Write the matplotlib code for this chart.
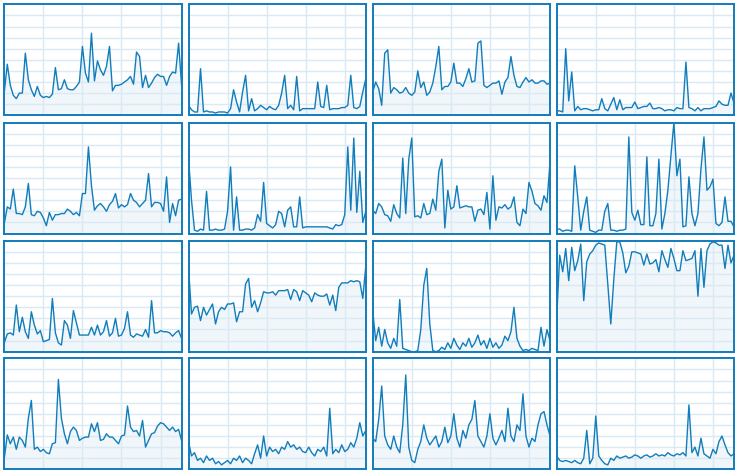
import matplotlib
matplotlib.use("Agg")
import matplotlib.pyplot as plt

# per-core usage in percent, 60 samples each
core0 = [21, 46, 27, 18, 15, 20, 20, 56, 32, 23, 17, 26, 18, 16, 17, 16, 19, 43, 23, 24,
         32, 24, 23, 23, 26, 30, 62, 38, 30, 74, 31, 49, 41, 36, 44, 62, 22, 27, 27, 28,
         30, 32, 35, 28, 57, 53, 25, 36, 25, 29, 34, 37, 35, 35, 27, 35, 39, 38, 65, 27]
core1 = [9, 5, 3, 3, 42, 3, 4, 3, 3, 2, 3, 3, 3, 2, 6, 23, 12, 3, 21, 36,
         4, 15, 4, 6, 9, 7, 5, 8, 6, 5, 9, 20, 36, 6, 9, 5, 35, 4, 6, 6,
         6, 6, 6, 30, 8, 7, 27, 5, 6, 6, 6, 7, 7, 9, 36, 7, 6, 8, 21, 33]
core2 = [21, 30, 24, 9, 56, 59, 20, 25, 23, 20, 21, 25, 20, 18, 21, 40, 25, 30, 18, 21,
         29, 44, 62, 23, 26, 26, 30, 47, 29, 29, 26, 33, 42, 30, 31, 65, 67, 27, 25, 27,
         29, 29, 31, 19, 30, 34, 53, 36, 26, 25, 30, 34, 30, 32, 29, 29, 31, 31, 28, 29]
core3 = [4, 4, 3, 60, 13, 39, 4, 8, 5, 6, 6, 5, 4, 5, 5, 15, 6, 4, 10, 16,
         5, 14, 5, 7, 7, 7, 12, 6, 7, 8, 8, 11, 6, 6, 7, 6, 4, 5, 5, 4,
         7, 6, 6, 48, 7, 6, 4, 7, 4, 6, 6, 6, 7, 8, 13, 10, 9, 9, 20, 11]
core4 = [9, 24, 22, 40, 18, 18, 17, 24, 45, 17, 16, 20, 19, 14, 7, 19, 12, 17, 17, 18,
         18, 22, 20, 17, 19, 16, 36, 36, 78, 43, 21, 25, 27, 24, 20, 26, 29, 36, 23, 26,
         24, 26, 36, 30, 28, 24, 27, 30, 54, 24, 28, 28, 27, 20, 51, 10, 27, 16, 30, 31]
core5 = [68, 30, 3, 2, 4, 3, 38, 3, 3, 4, 3, 3, 4, 20, 60, 3, 33, 3, 3, 4,
         4, 3, 5, 17, 11, 46, 9, 7, 5, 8, 20, 18, 6, 21, 24, 6, 6, 33, 5, 6,
         6, 6, 6, 6, 6, 6, 6, 5, 4, 8, 7, 8, 17, 78, 21, 86, 19, 56, 10, 20]
core6 = [21, 18, 27, 24, 17, 16, 11, 26, 18, 14, 68, 18, 67, 86, 15, 16, 14, 27, 17, 18,
         31, 21, 56, 67, 5, 39, 22, 24, 43, 23, 24, 25, 24, 24, 11, 21, 22, 17, 37, 4,
         52, 12, 24, 23, 26, 22, 24, 33, 10, 7, 22, 18, 46, 38, 27, 25, 21, 34, 28, 64]
core7 = [4, 4, 2, 3, 3, 2, 61, 33, 3, 20, 33, 3, 2, 1, 3, 3, 20, 27, 3, 3,
         2, 3, 3, 4, 87, 19, 12, 21, 8, 8, 69, 7, 7, 18, 67, 4, 18, 39, 70, 100,
         52, 67, 6, 7, 51, 18, 7, 18, 58, 87, 39, 42, 49, 9, 7, 10, 33, 11, 11, 6]
core8 = [8, 16, 17, 15, 42, 18, 31, 18, 12, 36, 24, 16, 19, 9, 10, 11, 48, 17, 8, 6,
         28, 24, 12, 37, 26, 15, 15, 15, 15, 22, 15, 24, 15, 18, 28, 14, 17, 30, 14, 15,
         21, 36, 15, 13, 16, 15, 14, 20, 13, 46, 17, 17, 19, 18, 18, 17, 14, 17, 19, 12]
core9 = [76, 34, 40, 41, 28, 40, 33, 38, 43, 25, 36, 40, 38, 43, 43, 44, 27, 36, 36, 61,
         66, 40, 46, 36, 44, 54, 53, 53, 54, 51, 55, 55, 55, 56, 47, 56, 54, 46, 55, 53,
         51, 45, 53, 51, 50, 50, 52, 42, 51, 37, 58, 62, 62, 62, 64, 63, 64, 63, 48, 77]
core10 = [37, 10, 22, 5, 20, 8, 3, 12, 5, 47, 3, 2, 1, 0, 0, 1, 20, 60, 75, 25,
          1, 0, 1, 4, 2, 8, 3, 12, 6, 2, 8, 5, 12, 4, 8, 15, 6, 10, 3, 12,
          4, 8, 3, 6, 14, 10, 18, 40, 12, 5, 1, 2, 1, 3, 2, 1, 22, 5, 20, 10]
core11 = [30, 87, 72, 93, 64, 94, 73, 82, 97, 46, 81, 88, 91, 96, 98, 97, 96, 61, 25, 65,
          99, 99, 89, 71, 77, 90, 90, 89, 88, 78, 88, 79, 80, 83, 72, 91, 83, 76, 93, 84,
          73, 73, 91, 82, 83, 84, 91, 50, 93, 58, 91, 97, 99, 98, 96, 96, 75, 96, 80, 87]
core12 = [10, 31, 23, 29, 18, 29, 26, 20, 46, 62, 18, 20, 16, 18, 15, 14, 23, 24, 81, 46,
          32, 23, 34, 38, 35, 26, 28, 29, 29, 41, 34, 42, 26, 27, 32, 29, 29, 26, 23, 30,
          31, 57, 38, 34, 35, 30, 44, 20, 26, 32, 33, 39, 42, 41, 38, 35, 38, 34, 36, 26]
core13 = [25, 12, 15, 8, 10, 6, 12, 8, 10, 5, 7, 4, 6, 8, 5, 10, 8, 12, 6, 10,
          8, 5, 14, 22, 10, 30, 12, 20, 16, 18, 14, 20, 18, 25, 20, 22, 18, 20, 16, 15,
          20, 15, 12, 18, 16, 20, 12, 55, 14, 18, 15, 22, 16, 18, 24, 20, 28, 42, 30, 35]
core14 = [28, 25, 45, 75, 30, 22, 18, 30, 20, 15, 40, 85, 20, 8, 6, 18, 25, 40, 28, 22,
          26, 30, 20, 25, 38, 24, 30, 50, 28, 20, 35, 28, 40, 45, 62, 30, 25, 20, 30, 50,
          28, 22, 28, 35, 25, 55, 30, 25, 40, 35, 68, 30, 20, 28, 25, 40, 50, 52, 40, 30]
core15 = [12, 8, 7, 8, 7, 6, 8, 6, 5, 10, 35, 5, 10, 48, 12, 8, 5, 4, 10, 8,
          12, 10, 11, 12, 10, 11, 13, 12, 10, 12, 13, 11, 12, 14, 12, 13, 12, 15, 13, 12,
          14, 13, 15, 12, 58, 15, 20, 12, 28, 14, 12, 10, 18, 14, 25, 30, 22, 15, 12, 14]

cores = [core0, core1, core2, core3, core4, core5, core6, core7,
         core8, core9, core10, core11, core12, core13, core14, core15]

line_color = '#117DBB'
fill_color = '#F1F6FA'
grid_color = '#D9EAF4'

W, H = 740, 476
fig = plt.figure(figsize=(W / 100, H / 100), dpi=100)
fig.patch.set_facecolor('white')

# panel placement in pixels
col_left = [4.3, 188.5, 372.7, 556.7]
row_top = [4.3, 122.5, 240.7, 358.3]
pw, ph = 177.3, 111.0

for n, vals in enumerate(cores):
    r, c = divmod(n, 4)
    ax = fig.add_axes([col_left[c] / W, 1 - (row_top[r] + ph) / H, pw / W, ph / H])
    x = list(range(len(vals)))
    ax.fill_between(x, vals, 0, color=fill_color, linewidth=0)
    ax.plot(x, vals, color=line_color, linewidth=1.0, zorder=3)
    ax.set_xlim(0, len(vals) - 1)
    ax.set_ylim(0, 100)
    ax.set_xticks([13, 26, 39, 52])
    ax.set_yticks(range(10, 100, 10))
    ax.set_axisbelow('line')
    ax.grid(True, color=grid_color, linewidth=1.0)
    ax.tick_params(length=0, labelbottom=False, labelleft=False)
    for s in ax.spines.values():
        s.set_color(line_color)
        s.set_linewidth(1.4)

fig.savefig('out.png', dpi=100, facecolor='white')
